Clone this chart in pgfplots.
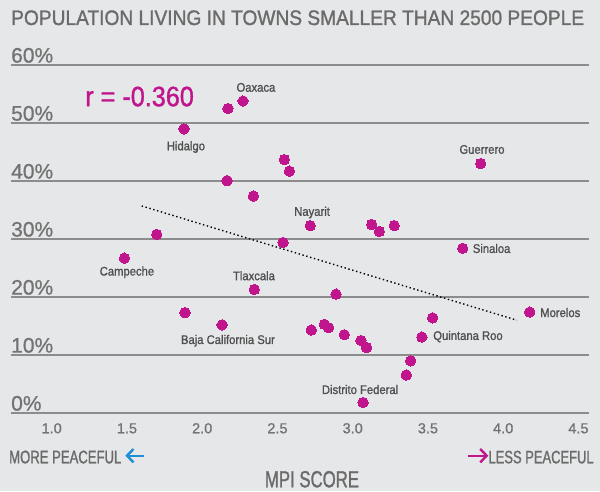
\documentclass[border=0pt]{standalone}
\usepackage{fontspec}
\setmainfont{Liberation Sans}[FakeStretch=0.9, FakeBold=1.2]
\newfontfamily\titlefont{Liberation Sans}[FakeStretch=0.912, FakeBold=1.2]
\newfontfamily\condfont{Liberation Sans}[FakeStretch=0.72, FakeBold=1.2]
\newfontfamily\numfont{Liberation Sans}[FakeBold=0.8]
\usepackage{pgfplots}
\pgfplotsset{compat=1.18}
\definecolor{bg}{HTML}{E6E7E9}
\definecolor{mag}{HTML}{C0158C}
\definecolor{arrblue}{HTML}{1E8FD5}
\definecolor{gridgray}{HTML}{8C8C8C}
\definecolor{titlegray}{HTML}{6B6B6B}
\definecolor{tickgray}{HTML}{737373}
\definecolor{labgray}{HTML}{505050}
\pgfplotstableread{
x y
1.879 49.0
2.171 52.5
2.271 53.8
2.546 43.7
2.579 41.7
2.165 40.05
2.340 37.4
1.698 30.8
2.537 29.4
1.483 26.7
3.850 43.0
2.718 32.3
3.126 32.5
3.177 31.3
3.276 32.3
3.731 28.4
2.346 21.3
1.886 17.3
2.132 15.2
2.889 20.5
4.176 17.4
3.531 16.4
2.725 14.3
2.811 15.3
2.840 14.7
2.944 13.5
3.460 13.1
3.055 12.5
3.092 11.3
3.385 9.0
3.356 6.55
3.069 1.8
}\statedata
\begin{document}
\begin{tikzpicture}[x=1pt,y=1pt]
\path[use as bounding box, fill=bg] (0,0) rectangle (600,491);
\node[anchor=base west, inner sep=0pt, text=titlegray, font=\titlefont\fontsize{21}{21}\selectfont] at (11,466) {POPULATION LIVING IN TOWNS SMALLER THAN 2500 PEOPLE};
\begin{axis}[
  at={(11pt,78pt)}, anchor=south west,
  scale only axis, width=578pt, height=348pt,
  xmin=0.7296, xmax=4.570, ymin=0, ymax=60,
  clip=false,
  axis line style={draw=none},
  major tick length=0pt,
  ymajorgrids,
  grid style={gridgray, line width=1.3pt},
  ytick={0,10,20,30,40,50,60},
  yticklabels={0\%,10\%,20\%,30\%,40\%,50\%,60\%},
  yticklabel style={anchor=south west, inner sep=0pt, yshift=2pt, text=tickgray, font=\numfont\fontsize{21}{21}\selectfont},
  xtick={1,1.5,2,2.5,3,3.5,4,4.5},
  xticklabels={1.0,1.5,2.0,2.5,3.0,3.5,4.0,4.5},
  xticklabel style={anchor=base, inner sep=0pt, yshift=-20.3pt, text=tickgray, font=\numfont\fontsize{14.5}{14.5}\selectfont},
]
\addplot[black, line width=1.4pt, dash pattern=on 1.4pt off 2.6pt] coordinates {(1.598,35.7) (4.090,16.0)};
\addplot[only marks, mark=*, mark size=5.2pt, color=mag, mark options={fill=mag, draw=mag, line width=0pt}] table[x=x,y=y] {\statedata};
\begin{scope}[every node/.style={inner sep=0pt, text=labgray, font=\fontsize{12.5}{12.5}\selectfont}]
\node[anchor=base] at (axis cs:2.357,55.4) {Oaxaca};
\node[anchor=base] at (axis cs:1.892,45.3) {Hidalgo};
\node[anchor=base] at (axis cs:1.500,23.7) {Campeche};
\node[anchor=base] at (axis cs:2.344,22.9) {Tlaxcala};
\node[anchor=base] at (axis cs:3.859,44.7) {Guerrero};
\node[anchor=base] at (axis cs:2.730,34.0) {Nayarit};
\node[anchor=base west] at (axis cs:3.797,27.6) {Sinaloa};
\node[anchor=base] at (axis cs:2.171,11.9) {Baja California Sur};
\node[anchor=base west] at (axis cs:4.245,16.55) {Morelos};
\node[anchor=base west] at (axis cs:3.534,12.6) {Quintana Roo};
\node[anchor=base] at (axis cs:3.049,3.28) {Distrito Federal};
\end{scope}
\node[anchor=base west, inner sep=0pt, text=mag, font=\fontsize{28}{28}\selectfont] at (axis cs:1.222,52.9) {r = -0.360};
\end{axis}
\node[anchor=base west, inner sep=0pt, text=titlegray, font=\condfont\fontsize{18.2}{18.2}\selectfont] at (9,27.7) {MORE PEACEFUL};
\node[anchor=base west, inner sep=0pt, text=titlegray, font=\condfont\fontsize{18}{18}\selectfont] at (488.3,27.7) {LESS PEACEFUL};
\node[anchor=base, inner sep=0pt, text=titlegray, font=\condfont\fontsize{23.3}{23.3}\selectfont] at (312,3.7) {MPI SCORE};
\draw[arrblue, line width=2.4pt] (144,35.3) -- (127.5,35.3);
\draw[arrblue, line width=2.4pt, line join=miter] (133.5,42) -- (127,35.3) -- (133.5,28.6);
\draw[mag, line width=2.4pt] (467.7,35.3) -- (486,35.3);
\draw[mag, line width=2.4pt, line join=miter] (480.2,42) -- (486.7,35.3) -- (480.2,28.6);
\end{tikzpicture}
\end{document}
